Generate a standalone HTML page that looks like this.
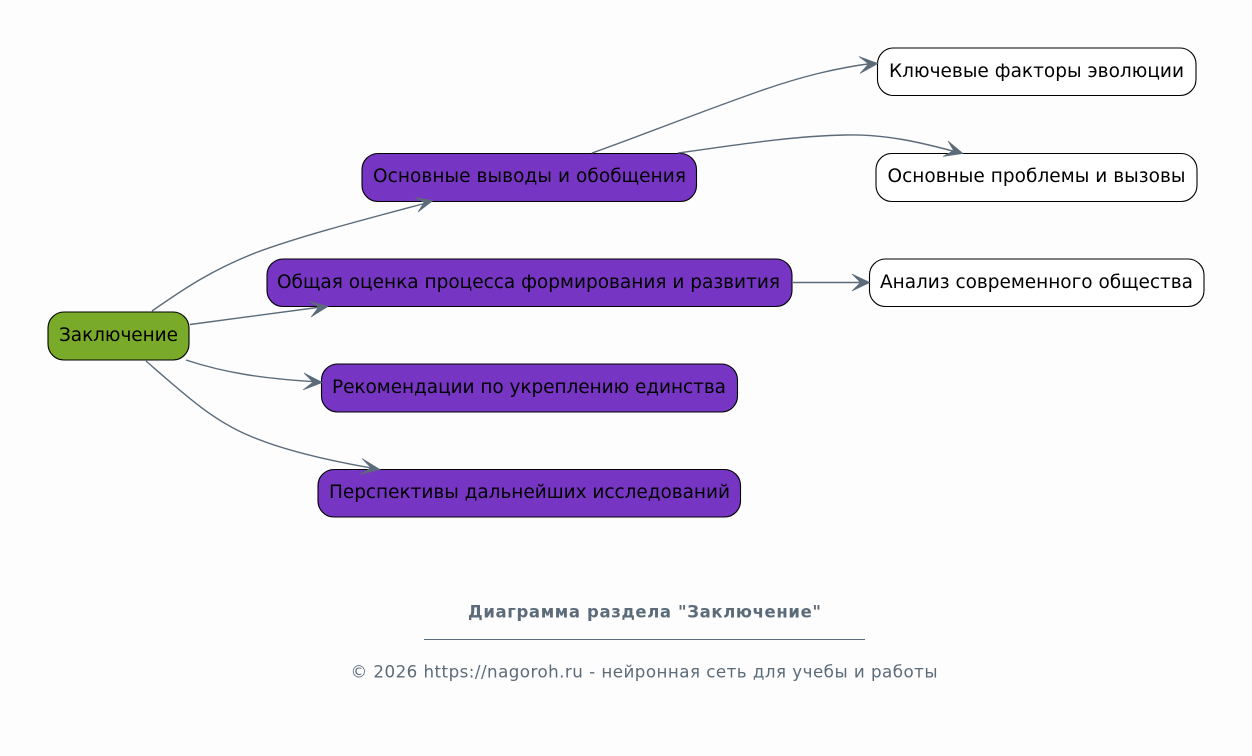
<!DOCTYPE html>
<html lang="ru">
<head>
<meta charset="utf-8">
<style>
html,body{margin:0;padding:0;background:#fdfdfd;width:1252px;height:756px;overflow:hidden}
svg{display:block}
text{font-family:"DejaVu Sans","Liberation Sans",sans-serif}
.n{font-size:18.5px;fill:#000;text-anchor:middle}
.e{fill:none;stroke:#5b6b79;stroke-width:1.4}
.a{fill:#5b6b79;stroke:#5b6b79;stroke-width:.6;stroke-linejoin:miter}
.b{stroke:#000;stroke-width:1.1}
</style>
</head>
<body>
<svg width="1252" height="756" viewBox="0 0 1252 756" xmlns="http://www.w3.org/2000/svg">
<rect width="1252" height="756" fill="#fdfdfd"/>

<rect class="b" x="48" y="312" width="141" height="48" rx="16" fill="#7aaa29"/>
<rect class="b" x="362" y="153.500" width="334.500" height="48" rx="16" fill="#7635c3"/>
<rect class="b" x="267" y="259" width="525" height="47.500" rx="16" fill="#7635c3"/>
<rect class="b" x="321.500" y="364" width="416" height="48" rx="16" fill="#7635c3"/>
<rect class="b" x="318" y="469.500" width="422.500" height="47.500" rx="16" fill="#7635c3"/>
<rect class="b" x="877.500" y="48" width="318.500" height="47.500" rx="16" fill="#fff"/>
<rect class="b" x="876" y="153.500" width="321" height="48" rx="16" fill="#fff"/>
<rect class="b" x="869.500" y="259" width="334.500" height="47.500" rx="16" fill="#fff"/>

<path class="e" d="M152 311 C185 288 212 270 255 253 C300 236 370 218 430 202"/>
<path class="e" d="M190 324.500 L325 306.500"/>
<path class="e" d="M186 360 C225 373 265 379 320 382"/>
<path class="e" d="M146 361 C185 395 212 420 250 436 C285 451 330 461 377 469"/>
<path class="e" d="M592 153 C640 136 700 112 760 91 C800 77 835 68 875 63"/>
<path class="e" d="M678 153 C730 146 790 136 845 135 C885 134 920 142 960 153"/>
<path class="e" d="M793 282.500 L867 282.500"/>

<path class="a" d="M433 200.500 L415 197.500 L424 202.500 L418 212 Z"/>
<path class="a" d="M328 306.500 L309 301 L318.500 307.300 L311 317 Z"/>
<path class="a" d="M322.500 382.500 L304 373 L313 382.100 L303 390 Z"/>
<path class="a" d="M380 469.500 L362 458.500 L371 467.800 L360 474.500 Z"/>
<path class="a" d="M878 63.500 L859 56.500 L868.500 63.900 L860 73.500 Z"/>
<path class="a" d="M963 153.500 L948 141 L953.500 150.500 L943 156.500 Z"/>
<path class="a" d="M870 282.500 L852 274 L860.500 282.500 L852 291 Z"/>

<text class="n" x="118.500" y="341" textLength="119">Заключение</text>
<text class="n" x="529.500" y="182" textLength="313">Основные выводы и обобщения</text>
<text class="n" x="528.500" y="288" textLength="503">Общая оценка процесса формирования и развития</text>
<text class="n" x="529" y="393" textLength="394">Рекомендации по укреплению единства</text>
<text class="n" x="529.500" y="498" textLength="401">Перспективы дальнейших исследований</text>
<text class="n" x="1036.500" y="77" textLength="295">Ключевые факторы эволюции</text>
<text class="n" x="1036.500" y="182" textLength="298">Основные проблемы и вызовы</text>
<text class="n" x="1036.500" y="288" textLength="313">Анализ современного общества</text>

<text x="644.500" y="617.500" text-anchor="middle" font-size="16.500" font-weight="700" fill="#5b6b79" textLength="353">Диаграмма раздела "Заключение"</text>
<rect x="424" y="639" width="441" height="1" fill="#5b6b79"/>
<text x="644" y="677.500" text-anchor="middle" font-size="16.700" fill="#5b6b79" textLength="587">© 2026 https://nagoroh.ru - нейронная сеть для учебы и работы</text>
</svg>
</body>
</html>
